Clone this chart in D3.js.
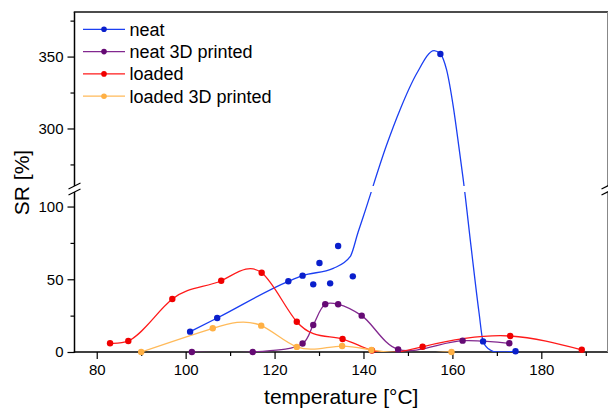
<!DOCTYPE html>
<html>
<head>
<meta charset="utf-8">
<script src="https://cdn.jsdelivr.net/npm/d3@7"></script>
<style>
  html, body { margin: 0; padding: 0; background: #fff; }
  svg { display: block; font-family: "Liberation Sans", Arial, sans-serif; }
</style>
</head>
<body>
<svg id="chart" width="608" height="410"></svg>
<script>
// ---- data -------------------------------------------------------------
const seriesNames = ["neat", "neat 3D printed", "loaded", "loaded 3D printed"];

const tempTicks = [80, 100, 120, 140, 160, 180];
const tempMinorTicks = [90, 110, 130, 150, 170, 190];
const srTicksLower = [0, 50, 100];
const srMinorLower = [25, 75];
const srTicksUpper = [300, 350];
const srMinorUpper = [275, 325, 375];

// neat: measured points
const neatTemp = [101.0, 107.1, 123.1, 126.3, 157.3, 166.9, 174.2];
const neatSR   = [14, 23.4, 48.6, 52.5, 351.8, 7.3, 0.5];
// neat: additional measurements off the trace
const neatExtraTemp = [128.7, 130.1, 132.5, 134.3, 137.6];
const neatExtraSR   = [46.5, 61.2, 47.2, 72.9, 52];
// neat: smoothed trace
const neatTraceTemp = [101.0, 107.1, 123.1, 126.3, 133.2, 137.0, 138.8, 140.0, 145.2, 148.2, 152.0,
                       155.9, 157.3, 158.7, 160.2, 161.55, 162.45, 164.2, 166.0, 166.9, 168.5, 170.0, 174.2];
const neatTraceSR   = [14, 23.4, 48.6, 52.5, 57.5, 65.5, 82.5, 93.5, 288.5, 312.9, 338.4,
                       354.1, 351.8, 340.7, 315.2, 285.1, 264.2, 72.4, 26.8, 7.3, 1.4, 0, 0.5];

const neat3dTemp = [101.4, 115.1, 126.3, 128.7, 131.4, 134.3, 139.6, 147.8, 162.3, 172.8];
const neat3dSR   = [0, 0, 5.8, 18.6, 32.8, 32.8, 25, 1.8, 7.8, 6];

const loadedTemp = [83.0, 87.1, 97.0, 108.0, 117.1, 125.0, 135.3, 141.9, 153.3, 173.0, 189.1];
const loadedSR   = [6, 7.6, 36.4, 49, 54.5, 20.8, 8.9, 1.0, 3.6, 11, 1.5];

const loaded3dTemp = [90.0, 106.1, 117.0, 125.0, 135.2, 141.8, 159.8];
const loaded3dSR   = [0, 16.3, 18.1, 3.5, 4.1, 1.4, 0];

// ---- layout -----------------------------------------------------------
const W = 608, H = 410;
const plot = { left: 74.5, right: 608, top: 12, bottom: 352, breakTop: 186, breakBottom: 192 };
const font = '"Liberation Sans", Arial, sans-serif';

const x = d3.scaleLinear().domain([75, 195]).range([plot.left, plot.right]);
const yLow = d3.scaleLinear().domain([0, 110]).range([plot.bottom, plot.breakBottom]);
const yHigh = d3.scaleLinear().domain([260, 381]).range([plot.breakTop, plot.top]);
const yGap = d3.scaleLinear().domain([110, 260]).range([plot.breakBottom, plot.breakTop]);
const y = v => (v <= 110 ? yLow(v) : v >= 260 ? yHigh(v) : yGap(v));

// natural cubic spline y(x) as a d3 curve
function splineSlopes(xs, ys) {
  const n = xs.length, h = [], d = [];
  for (let i = 0; i < n - 1; i++) { h[i] = xs[i + 1] - xs[i]; d[i] = (ys[i + 1] - ys[i]) / h[i]; }
  const M = new Array(n).fill(0);
  const sz = n - 2, cp = [], rp = [];
  for (let k = 0; k < sz; k++) {
    const i = k + 1, a = h[i - 1], b = 2 * (h[i - 1] + h[i]), c = h[i], r = 6 * (d[i] - d[i - 1]);
    if (k === 0) { cp[k] = c / b; rp[k] = r / b; }
    else { const den = b - a * cp[k - 1]; cp[k] = c / den; rp[k] = (r - a * rp[k - 1]) / den; }
  }
  for (let k = sz - 1; k >= 0; k--) M[k + 1] = rp[k] - cp[k] * M[k + 2];
  const m = [];
  for (let i = 0; i < n - 1; i++) m[i] = d[i] - h[i] * (2 * M[i] + M[i + 1]) / 6;
  m[n - 1] = d[n - 2] + h[n - 2] * (M[n - 2] + 2 * M[n - 1]) / 6;
  return m;
}
function NaturalSplineX(context) { this._context = context; }
NaturalSplineX.prototype = {
  areaStart() { this._line = 0; },
  areaEnd() { this._line = NaN; },
  lineStart() { this._x = []; this._y = []; },
  point(px, py) { this._x.push(+px); this._y.push(+py); },
  lineEnd() {
    const xs = this._x, ys = this._y, n = xs.length, c = this._context;
    if (n) {
      this._line ? c.lineTo(xs[0], ys[0]) : c.moveTo(xs[0], ys[0]);
      if (n === 2) c.lineTo(xs[1], ys[1]);
      else if (n > 2) {
        const m = splineSlopes(xs, ys);
        for (let i = 0; i < n - 1; i++) {
          const hh = xs[i + 1] - xs[i];
          c.bezierCurveTo(xs[i] + hh / 3, ys[i] + m[i] * hh / 3,
                          xs[i + 1] - hh / 3, ys[i + 1] - m[i + 1] * hh / 3,
                          xs[i + 1], ys[i + 1]);
        }
      }
    }
    if (this._line || (this._line !== 0 && n === 1)) c.closePath();
    this._line = 1 - this._line;
    this._x = this._y = null;
  }
};
const curveSplineX = ctx => new NaturalSplineX(ctx);

const zip = (ts, vs) => ts.map((t, i) => ({ t, v: vs[i] }));

const series = [
  { name: seriesNames[0], line: "#1b3ff2", dot: "#0a1fcc",
    trace: zip(neatTraceTemp, neatTraceSR), curve: d3.curveMonotoneX,
    points: zip(neatTemp, neatSR).concat(zip(neatExtraTemp, neatExtraSR)) },
  { name: seriesNames[1], line: "#82288f", dot: "#650a74",
    trace: zip(neat3dTemp, neat3dSR), curve: d3.curveCatmullRom.alpha(0.5), points: zip(neat3dTemp, neat3dSR) },
  { name: seriesNames[2], line: "#ff1a1a", dot: "#f00000",
    trace: zip(loadedTemp, loadedSR), curve: curveSplineX, points: zip(loadedTemp, loadedSR) },
  { name: seriesNames[3], line: "#ffba5a", dot: "#ffb044",
    trace: zip(loaded3dTemp, loaded3dSR), curve: curveSplineX, points: zip(loaded3dTemp, loaded3dSR) }
];

// ---- drawing ----------------------------------------------------------
const svg = d3.select("#chart");
svg.append("rect").attr("width", W).attr("height", H).attr("fill", "#fff");

const clip = svg.append("defs").append("clipPath").attr("id", "plotClip");
clip.append("rect").attr("x", plot.left).attr("y", plot.top)
  .attr("width", plot.right - plot.left).attr("height", plot.breakTop - plot.top);
clip.append("rect").attr("x", plot.left).attr("y", plot.breakBottom)
  .attr("width", plot.right - plot.left).attr("height", plot.bottom - plot.breakBottom);

function styleAxis(g, size) {
  g.select(".domain").remove();
  g.selectAll(".tick line").attr("stroke", "#000").attr("stroke-width", 1.2);
  g.selectAll("text").attr("font-family", font).attr("font-size", size).attr("fill", "#000");
}

// x axis
svg.append("g").attr("transform", `translate(0,${plot.bottom})`)
  .call(d3.axisBottom(x).tickValues(tempTicks).tickSize(7).tickPadding(5).tickFormat(d3.format("d")))
  .call(g => styleAxis(g, 15));
svg.append("g").attr("transform", `translate(0,${plot.bottom})`)
  .call(d3.axisBottom(x).tickValues(tempMinorTicks).tickSize(4).tickFormat(""))
  .call(g => styleAxis(g, 15));

// y axis, lower and upper segments
[[yLow, srTicksLower, srMinorLower], [yHigh, srTicksUpper, srMinorUpper]].forEach(([sc, major, minor]) => {
  svg.append("g").attr("transform", `translate(${plot.left},0)`)
    .call(d3.axisLeft(sc).tickValues(major).tickSize(7).tickPadding(4).tickFormat(d3.format("d")))
    .call(g => styleAxis(g, 15));
  svg.append("g").attr("transform", `translate(${plot.left},0)`)
    .call(d3.axisLeft(sc).tickValues(minor).tickSize(4).tickFormat(""))
    .call(g => styleAxis(g, 15));
});

// frame lines
const frame = svg.append("g").attr("fill", "none");
frame.append("line").attr("x1", plot.left).attr("x2", plot.left).attr("y1", plot.top).attr("y2", plot.breakTop)
  .attr("stroke", "#000").attr("stroke-width", 1.5);
frame.append("line").attr("x1", plot.left).attr("x2", plot.left).attr("y1", plot.breakBottom).attr("y2", plot.bottom + 0.75)
  .attr("stroke", "#000").attr("stroke-width", 1.5);
frame.append("line").attr("x1", plot.left - 0.75).attr("x2", plot.right).attr("y1", plot.bottom).attr("y2", plot.bottom)
  .attr("stroke", "#000").attr("stroke-width", 1.5);
frame.append("line").attr("x1", plot.left - 0.75).attr("x2", plot.right).attr("y1", plot.top).attr("y2", plot.top)
  .attr("stroke", "#111").attr("stroke-width", 1.5);
frame.append("line").attr("x1", plot.right - 0.5).attr("x2", plot.right - 0.5).attr("y1", plot.top).attr("y2", plot.breakTop)
  .attr("stroke", "#888").attr("stroke-width", 1);
frame.append("line").attr("x1", plot.right - 0.5).attr("x2", plot.right - 0.5).attr("y1", plot.breakBottom).attr("y2", plot.bottom)
  .attr("stroke", "#888").attr("stroke-width", 1);

// axis break marks
[plot.left, plot.right - 0.5].forEach(bx => {
  [plot.breakTop, plot.breakBottom].forEach(by => {
    frame.append("line").attr("x1", bx - 6).attr("y1", by + 3).attr("x2", bx + 6).attr("y2", by - 3)
      .attr("stroke", "#000").attr("stroke-width", 1.2);
  });
});

// series
const lines = svg.append("g").attr("clip-path", "url(#plotClip)");
series.forEach(s => {
  const gen = d3.line().x(d => x(d.t)).y(d => y(d.v)).curve(s.curve);
  lines.append("path").datum(s.trace).attr("d", gen)
    .attr("fill", "none").attr("stroke", s.line).attr("stroke-width", 1.3);
  svg.append("g").selectAll("circle").data(s.points).join("circle")
    .attr("cx", d => x(d.t)).attr("cy", d => y(d.v)).attr("r", 3.2).attr("fill", s.dot);
});

// legend
const legend = svg.append("g");
series.forEach((s, i) => {
  const ly = 29.3 + i * 22.3;
  legend.append("line").attr("x1", 83).attr("x2", 125).attr("y1", ly).attr("y2", ly)
    .attr("stroke", s.line).attr("stroke-width", 1.3);
  legend.append("circle").attr("cx", 104).attr("cy", ly).attr("r", 2.8).attr("fill", s.dot);
  legend.append("text").attr("x", 129.5).attr("y", ly).attr("dy", "0.35em")
    .attr("font-family", font).attr("font-size", 18).attr("fill", "#000").text(s.name);
});

// axis titles
svg.append("text").attr("x", (plot.left + plot.right) / 2).attr("y", 404)
  .attr("text-anchor", "middle").attr("font-family", font).attr("font-size", 21).attr("fill", "#000")
  .text("temperature [°C]");
svg.append("text").attr("transform", "translate(28.5,182.5) rotate(-90)")
  .attr("text-anchor", "middle").attr("font-family", font).attr("font-size", 21).attr("fill", "#000")
  .text("SR [%]");
</script>
</body>
</html>
